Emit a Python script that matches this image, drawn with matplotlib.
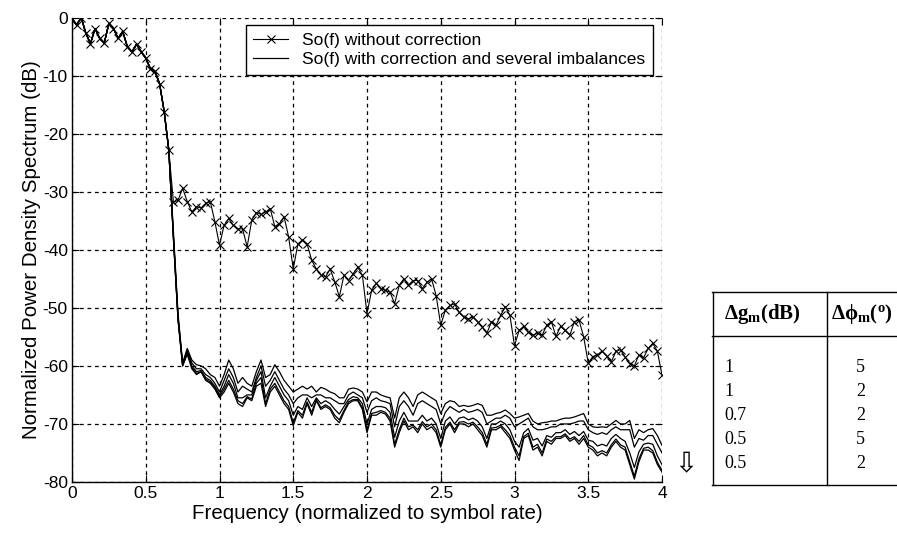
import numpy as np
import matplotlib
matplotlib.use("Agg")
import matplotlib.pyplot as plt
from matplotlib.lines import Line2D

plt.rcParams['font.family'] = ['Liberation Sans', 'DejaVu Sans']
plt.rcParams['mathtext.fontset'] = 'custom'
plt.rcParams['mathtext.rm'] = 'Liberation Serif'
plt.rcParams['mathtext.bf'] = 'Liberation Serif:bold'
plt.rcParams['mathtext.it'] = 'Liberation Serif:italic'

# frequency bins (normalized to symbol rate), 1/32 spacing from 0 to 4
freq = np.linspace(0, 4, 129)

# So(f) without correction (dB)
psd_uncorrected = [
    -0.2, -1.3, 0.0, -2.7, -4.5, -1.9, -3.6, -4.4, -1.0, -1.9,
    -3.6, -2.4, -5.0, -5.9, -4.6, -5.9, -7.0, -8.8, -9.3, -11.4,
    -16.2, -22.8, -31.8, -31.5, -29.4, -31.7, -33.5, -32.6, -32.8, -32.0,
    -31.7, -35.2, -39.2, -35.8, -34.6, -35.8, -36.4, -36.4, -39.5, -34.9,
    -33.6, -33.9, -33.5, -32.9, -36.0, -35.5, -34.3, -37.8, -43.3, -39.0,
    -38.3, -39.0, -41.8, -43.3, -44.3, -44.7, -43.3, -45.5, -48.1, -44.4,
    -45.3, -44.1, -43.0, -44.4, -51.0, -47.0, -45.8, -46.7, -47.0, -47.3,
    -49.3, -46.1, -45.0, -46.1, -45.3, -45.3, -46.7, -45.6, -45.0, -47.9,
    -53.0, -50.4, -49.6, -49.3, -50.8, -51.6, -51.9, -51.6, -52.4, -53.3,
    -54.4, -52.4, -53.0, -51.3, -49.8, -51.3, -56.5, -53.9, -53.2, -54.2,
    -54.7, -54.4, -54.7, -53.0, -52.4, -54.9, -53.2, -53.9, -54.7, -52.4,
    -52.1, -55.0, -59.5, -58.4, -58.1, -57.5, -58.3, -59.3, -57.5, -57.2,
    -58.5, -59.6, -60.0, -58.1, -58.6, -57.0, -56.1, -57.5, -61.6,
]

# common part of the corrected spectra (0 .. 0.625)
psd_common_head = [
    -0.2, -1.3, 0.0, -2.7, -4.5, -1.9, -3.6, -4.4, -1.0, -1.9,
    -3.6, -2.4, -5.0, -5.9, -4.6, -5.9, -7.0, -8.8, -9.3, -11.4,
    -16.2,
]

# corrected spectra tails (0.656 .. 4) for the five imbalance cases
psd_corr_1 = [
    -22.8, -37.0, -51.0, -59.5, -57.0, -59.0, -59.8, -60.0, -60.5, -61.5,
    -62.0, -63.5, -61.5, -59.0, -60.5, -63.0, -62.0, -63.0, -63.5, -61.0,
    -59.0, -62.0, -61.5, -59.8, -61.0, -62.5, -63.5, -64.5, -64.0, -63.5,
    -64.0, -63.5, -64.5, -63.7, -64.0, -64.5, -64.8, -65.5, -65.5, -64.0,
    -63.8, -64.0, -64.5, -66.2, -64.5, -64.5, -65.0, -65.3, -65.5, -69.0,
    -65.5, -64.5, -65.5, -67.0, -65.0, -64.5, -65.0, -65.5, -66.0, -68.2,
    -66.5, -66.0, -66.2, -67.0, -66.8, -67.0, -66.8, -66.5, -66.8, -68.5,
    -68.5, -68.2, -68.0, -67.6, -68.2, -69.0, -68.8, -68.5, -68.2, -69.5,
    -70.0, -69.8, -69.7, -69.5, -69.5, -69.2, -69.0, -69.0, -68.8, -68.5,
    -68.2, -70.0, -70.5, -70.6, -70.5, -70.6, -70.0, -69.4, -70.0, -70.0,
    -69.4, -72.5, -71.0, -71.5, -71.0, -70.8, -72.0, -73.7,
]
psd_corr_2 = [
    -22.8, -37.5, -51.5, -59.8, -57.3, -59.5, -60.5, -60.5, -61.5, -62.0,
    -63.0, -64.5, -62.5, -60.5, -62.0, -64.5, -63.5, -64.0, -64.5, -62.0,
    -60.0, -63.5, -62.5, -61.0, -62.5, -64.0, -65.0, -66.5, -65.5, -65.0,
    -65.0, -65.5, -65.0, -65.0, -65.5, -65.5, -66.0, -66.5, -66.5, -65.0,
    -64.5, -65.0, -65.5, -68.0, -66.0, -65.5, -66.0, -66.2, -66.5, -70.5,
    -67.0, -66.0, -67.0, -68.5, -66.5, -66.0, -66.5, -67.0, -67.5, -70.0,
    -68.0, -67.0, -67.5, -68.0, -67.5, -68.0, -67.8, -67.5, -68.0, -70.0,
    -69.5, -69.0, -69.0, -68.5, -69.0, -70.5, -70.0, -69.5, -69.0, -70.5,
    -71.0, -71.0, -70.8, -70.5, -70.5, -70.0, -70.0, -70.0, -69.8, -69.5,
    -69.5, -71.0, -71.5, -71.8, -71.5, -71.8, -71.0, -70.5, -71.0, -71.0,
    -71.0, -74.0, -72.5, -72.8, -72.0, -72.0, -73.5, -75.0,
]
psd_corr_3 = [
    -22.8, -37.8, -51.8, -59.8, -57.5, -60.0, -61.0, -60.8, -62.0, -62.5,
    -63.5, -65.0, -63.5, -61.5, -63.0, -65.5, -65.5, -65.0, -65.0, -62.5,
    -61.0, -65.5, -63.5, -62.0, -63.5, -65.0, -66.0, -68.5, -67.0, -67.5,
    -65.5, -67.0, -65.5, -66.5, -66.0, -66.5, -67.5, -68.3, -67.0, -65.8,
    -65.3, -65.5, -66.5, -70.0, -67.5, -67.0, -67.0, -67.2, -68.0, -72.3,
    -69.5, -68.0, -69.5, -69.5, -69.5, -68.5, -69.5, -69.0, -70.0, -72.5,
    -69.5, -68.8, -70.0, -69.0, -68.8, -69.3, -69.0, -69.5, -70.5, -72.5,
    -70.0, -70.0, -69.5, -70.0, -71.0, -73.0, -74.0, -71.5, -70.8, -72.8,
    -72.5, -73.8, -72.0, -72.3, -71.5, -71.5, -71.0, -71.8, -71.3, -72.0,
    -71.3, -72.8, -73.0, -73.8, -73.5, -73.8, -72.5, -71.8, -72.5, -73.0,
    -75.0, -77.5, -74.8, -73.5, -73.3, -73.5, -75.5, -77.0,
]
psd_corr_4 = [
    -22.8, -38.0, -52.0, -60.0, -57.8, -60.3, -61.3, -61.0, -62.3, -62.8,
    -63.8, -65.3, -64.0, -62.5, -64.0, -66.0, -66.5, -65.3, -65.7, -63.0,
    -62.0, -66.5, -64.0, -63.0, -64.5, -66.0, -67.0, -69.8, -67.7, -68.5,
    -66.2, -68.0, -65.8, -67.2, -66.7, -67.2, -68.5, -69.3, -67.7, -66.2,
    -65.8, -65.8, -67.2, -71.0, -68.2, -68.0, -67.7, -68.0, -69.0, -73.5,
    -71.0, -69.0, -70.5, -70.2, -71.0, -69.6, -70.5, -70.0, -71.0, -73.6,
    -70.6, -69.7, -71.0, -69.7, -69.6, -70.0, -69.7, -70.5, -71.5, -73.5,
    -70.7, -70.6, -70.2, -71.0, -72.0, -74.0, -75.5, -72.2, -71.6, -74.0,
    -73.5, -75.0, -72.6, -73.0, -72.2, -72.2, -71.7, -72.6, -72.2, -73.0,
    -72.0, -73.6, -74.0, -75.0, -74.6, -75.0, -73.6, -72.6, -73.6, -74.0,
    -76.5, -79.0, -76.0, -74.2, -74.0, -74.6, -76.6, -78.0,
]
psd_corr_5 = [
    -22.8, -38.0, -52.0, -60.0, -58.0, -60.5, -61.5, -61.0, -62.5, -63.0,
    -64.0, -65.5, -64.5, -63.0, -64.5, -66.5, -67.0, -65.5, -66.0, -63.5,
    -63.0, -67.0, -64.5, -63.5, -65.0, -66.5, -67.5, -70.3, -68.0, -69.0,
    -66.5, -68.5, -66.0, -67.5, -67.0, -67.5, -69.0, -69.8, -68.0, -66.5,
    -66.0, -66.0, -67.5, -71.5, -68.5, -68.5, -68.0, -68.3, -69.5, -74.0,
    -71.5, -69.5, -71.0, -70.5, -71.5, -70.0, -71.0, -70.5, -71.5, -74.0,
    -71.0, -70.0, -71.5, -70.0, -70.0, -70.5, -70.0, -71.0, -72.0, -74.0,
    -71.0, -71.0, -70.5, -71.5, -72.5, -74.5, -76.3, -72.5, -72.0, -74.5,
    -74.0, -75.5, -73.0, -73.5, -72.5, -72.5, -72.0, -73.0, -72.5, -73.5,
    -72.5, -74.0, -74.5, -75.5, -75.0, -75.5, -74.0, -73.0, -74.0, -74.5,
    -77.0, -79.5, -76.5, -74.5, -74.5, -75.0, -77.0, -78.3,
]

x_ticks = [0, 0.5, 1, 1.5, 2, 2.5, 3, 3.5, 4]
x_ticklabels = ['0', '0.5', '1', '1.5', '2', '2.5', '3', '3.5', '4']
y_ticks = [-80, -70, -60, -50, -40, -30, -20, -10, 0]
y_ticklabels = ['-80', '-70', '-60', '-50', '-40', '-30', '-20', '-10', '0']

table_gain = ['1', '1', '0.7', '0.5', '0.5']
table_phase = ['5', '2', '2', '5', '2']

fig = plt.figure(figsize=(8.97, 5.38), dpi=100)
W, H = 897, 538
ax = fig.add_axes([72 / W, 1 - 482 / H, (662 - 72) / W, (482 - 17.5) / H])

for tail in (psd_corr_1, psd_corr_2, psd_corr_3, psd_corr_4, psd_corr_5):
    ax.plot(freq, psd_common_head + tail, color='black', lw=0.9, zorder=3)
ax.plot(freq, psd_uncorrected, color='black', lw=0.8, marker='x',
        markersize=6, markeredgewidth=0.8, zorder=4)

ax.set_xlim(0, 4)
ax.set_ylim(-80, 0)
ax.set_xticks(x_ticks)
ax.set_xticklabels(x_ticklabels)
ax.set_yticks(y_ticks)
ax.set_yticklabels(y_ticklabels)
ax.tick_params(direction='in', length=5, labelsize=12.5, colors='black', pad=3,
               top=True, right=True)
ax.grid(True, color='black', linestyle=(0, (3, 3)), linewidth=0.9)
for s in ('top', 'right'):
    ax.spines[s].set_visible(False)
for s in ('left', 'bottom'):
    ax.spines[s].set_linewidth(1.0)
ax.set_xlabel('Frequency (normalized to symbol rate)', fontsize=14.8, labelpad=2)
ax.set_ylabel('Normalized Power Density Spectrum (dB)', fontsize=14.8, labelpad=1)

handles = [
    Line2D([], [], color='black', lw=0.8, marker='x', markersize=6, markeredgewidth=0.8),
    Line2D([], [], color='black', lw=0.9),
]
leg = ax.legend(handles, ['So(f) without correction',
                          'So(f) with correction and several imbalances'],
                loc='upper right', bbox_to_anchor=((653 - 72) / 590, 1 - (25 - 17.5) / 464.5),
                fontsize=12.5, frameon=True, fancybox=False, framealpha=1,
                edgecolor='black', borderpad=0.45, labelspacing=0.22,
                handlelength=2.0, handletextpad=0.8, borderaxespad=0)
leg.get_frame().set_linewidth(1.0)
leg.set_zorder(5)

# side table
def fx(px):
    return px / W

def fy(py):
    return 1 - py / H

lw = 1.0
t_top, t_head, t_bot = 292, 336, 485
fig.add_artist(Line2D([fx(712), fx(897)], [fy(t_top), fy(t_top)], color='black', lw=lw))
fig.add_artist(Line2D([fx(712), fx(897)], [fy(t_head), fy(t_head)], color='black', lw=lw))
fig.add_artist(Line2D([fx(712), fx(897)], [fy(t_bot), fy(t_bot)], color='black', lw=lw))
fig.add_artist(Line2D([fx(712.5), fx(712.5)], [fy(t_top), fy(t_bot)], color='black', lw=lw))
fig.add_artist(Line2D([fx(827), fx(827)], [fy(t_top), fy(t_bot)], color='black', lw=lw))

fig.text(fx(724), fy(314), r'$\mathbf{\Delta g_m(dB)}$',
         fontsize=15, va='center', ha='left')
fig.text(fx(831), fy(314), r'$\mathbf{\Delta\phi_m(^o)}$',
         fontsize=15, va='center', ha='left')
row_y = [367, 391, 415, 439, 463]
for g, p, yy in zip(table_gain, table_phase, row_y):
    fig.text(fx(724), fy(yy), g, fontsize=13, family='Liberation Serif', va='center', ha='left')
    fig.text(fx(856), fy(yy), p, fontsize=13, family='Liberation Serif', va='center', ha='left')

fig.text(fx(686), fy(464), '\u21e9', fontsize=20, family='DejaVu Sans', va='center', ha='center')

fig.savefig('out.png', dpi=100, facecolor='white')
